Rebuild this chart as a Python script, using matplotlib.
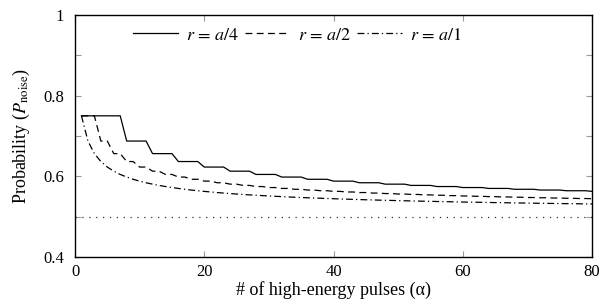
import numpy as np
import matplotlib
matplotlib.use("Agg")
import matplotlib.pyplot as plt

plt.rcParams['font.family'] = ['Liberation Serif', 'DejaVu Serif']
plt.rcParams['mathtext.fontset'] = 'stix'

# x values: number of high-energy pulses
alpha = np.arange(1, 81)

# r = a/4: one level per group of 4 pulses (first level covers alpha 1..7)
solid_levels = [0.750, 0.6875, 0.6563, 0.6367, 0.6230, 0.6128, 0.6047, 0.5982,
                0.5927, 0.5881, 0.5841, 0.5806, 0.5775, 0.5747, 0.5722, 0.5700,
                0.5679, 0.5660, 0.5643, 0.5627]
solid_counts = [7] + [4] * 18 + [1]

# r = a/2: one level per group of 2 pulses (first level covers alpha 1..3)
dashed_levels = [0.750, 0.6875, 0.6563, 0.6367, 0.6230, 0.6128, 0.6047, 0.5982,
                 0.5927, 0.5881, 0.5841, 0.5806, 0.5775, 0.5747, 0.5722, 0.5700,
                 0.5679, 0.5660, 0.5643, 0.5627, 0.5612, 0.5598, 0.5585, 0.5573,
                 0.5561, 0.5551, 0.5540, 0.5531, 0.5522, 0.5513, 0.5505, 0.5497,
                 0.5489, 0.5482, 0.5475, 0.5469, 0.5462, 0.5456, 0.5450, 0.5445]
dashed_counts = [3] + [2] * 38 + [1]

# r = a/1: one value per pulse
dashdot_vals = [0.750, 0.6875, 0.6563, 0.6367, 0.6230, 0.6128, 0.6047, 0.5982,
                0.5927, 0.5881, 0.5841, 0.5806, 0.5775, 0.5747, 0.5722, 0.5700,
                0.5679, 0.5660, 0.5643, 0.5627, 0.5612, 0.5598, 0.5585, 0.5573,
                0.5561, 0.5551, 0.5540, 0.5531, 0.5522, 0.5513, 0.5505, 0.5497,
                0.5489, 0.5482, 0.5475, 0.5469, 0.5462, 0.5456, 0.5450, 0.5445,
                0.5439, 0.5434, 0.5429, 0.5424, 0.5419, 0.5415, 0.5410, 0.5406,
                0.5402, 0.5398, 0.5394, 0.5390, 0.5387, 0.5383, 0.5380, 0.5376,
                0.5373, 0.5370, 0.5366, 0.5363, 0.5360, 0.5358, 0.5355, 0.5352,
                0.5349, 0.5347, 0.5344, 0.5341, 0.5339, 0.5337, 0.5334, 0.5332,
                0.5330, 0.5327, 0.5325, 0.5323, 0.5321, 0.5319, 0.5317, 0.5315]

baseline = 0.5
labels = [r'$r\,=\,a/4$', r'$r\,=\,a/2$', r'$r\,=\,a/1$']

solid = np.repeat(solid_levels, solid_counts)
dashed = np.repeat(dashed_levels, dashed_counts)
dashdot = np.array(dashdot_vals)

fig = plt.figure(figsize=(6.03, 3.02), dpi=100)
ax = fig.add_axes([75 / 603, 1 - 257 / 302, (592 - 75) / 603, (257 - 15) / 302])

lw = 0.9
ax.plot(alpha, solid, color='black', lw=lw, ls='-', label=labels[0])
ax.plot(alpha, dashed, color='black', lw=lw, ls=(0, (5.5, 3.5)), label=labels[1])
ax.plot(alpha, dashdot, color='black', lw=lw, ls=(0, (5.5, 2.5, 1, 2.5)), label=labels[2])
ax.plot([0, 80], [baseline, baseline], color='#333333', lw=0.9, ls=(0, (1, 4.5)))

ax.set_xlim(0, 80)
ax.set_ylim(0.4, 1.0)
ax.set_xticks([0, 20, 40, 60, 80])
ax.set_yticks([0.4, 0.6, 0.8, 1.0])
ax.set_yticklabels(['0.4', '0.6', '0.8', '1'])
ax.set_yticks([0.5, 0.7, 0.9], minor=True)

ax.tick_params(axis='both', which='both', direction='in', color='#999999',
               labelsize=12, top=True, right=True, length=4, width=0.8)
ax.tick_params(axis='y', which='both', pad=8)
ax.tick_params(axis='x', which='both', pad=5)
for s in ax.spines.values():
    s.set_linewidth(1.0)
    s.set_color('black')

ax.set_xlabel('# of high-energy pulses (α)', fontsize=13, labelpad=1)
ax.set_ylabel(r'Probability ($P_{\mathrm{noise}}$)', fontsize=13, labelpad=8)

ax.legend(loc='center left', bbox_to_anchor=(0.112, 0.917), ncol=3, frameon=False,
          fontsize=13, handlelength=2.5, handletextpad=0.45, columnspacing=0.3,
          borderaxespad=0.0, borderpad=0.0)

fig.savefig('out.png', dpi=100)
